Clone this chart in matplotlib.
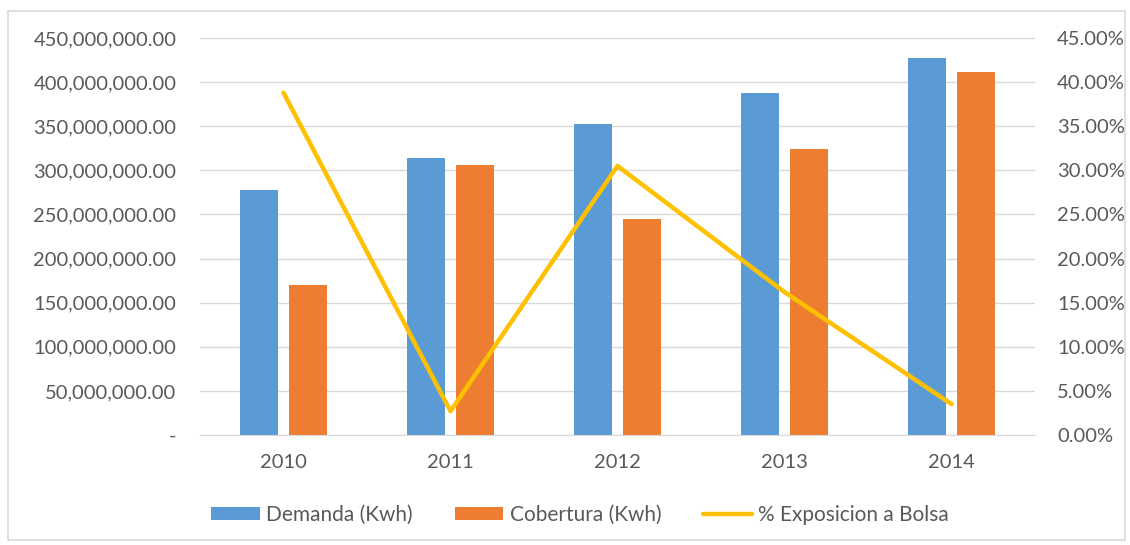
import matplotlib
matplotlib.use("Agg")
import matplotlib.pyplot as plt
from matplotlib.patches import Rectangle
from matplotlib.ticker import FuncFormatter, MultipleLocator
import numpy as np

years = ["2010", "2011", "2012", "2013", "2014"]
demanda = [278e6, 314e6, 353e6, 388e6, 427e6]
cobertura = [170e6, 306e6, 245e6, 324e6, 411e6]
exposicion = [38.8, 2.7, 30.5, 16.2, 3.5]

plt.rcParams['font.family'] = ['Lato', 'DejaVu Sans']
txt = '#595959'
fig = plt.figure(figsize=(11.3, 5.45), dpi=100)
fig.patches.append(Rectangle((8/1130, 5/545), 1117/1130, 529/545, transform=fig.transFigure,
                             fill=False, edgecolor='#D9D9D9', linewidth=1.2))
ax = fig.add_axes([200/1130, 1-435/545, 835/1130, 397/545])
x = np.arange(len(years))
w = 0.228
off = 0.146
b1 = ax.bar(x - off, demanda, w, color='#5B9BD5', label='Demanda (Kwh)', zorder=2)
b2 = ax.bar(x + off, cobertura, w, color='#ED7D31', label='Cobertura (Kwh)', zorder=2)
ax.set_xlim(-0.5, 4.5)
ax.set_ylim(0, 450e6)
ax.yaxis.set_major_locator(MultipleLocator(50e6))
ax.yaxis.set_major_formatter(FuncFormatter(lambda v, p: '-' if v == 0 else f'{v:,.2f}'))
ax.set_xticks(x)
ax.set_xticklabels(years)
ax.grid(axis='y', color='#D9D9D9', linewidth=1, zorder=0)
ax.set_axisbelow(True)
for s in ax.spines.values():
    s.set_visible(False)
ax.spines['bottom'].set_visible(True)
ax.spines['bottom'].set_color('#D9D9D9')
ax.tick_params(axis='both', length=0, colors=txt, labelsize=14.5)
ax.tick_params(axis='y', pad=17)
ax.tick_params(axis='x', pad=14)

ax2 = ax.twinx()
ln, = ax2.plot(x, exposicion, color='#FFC000', linewidth=3.2, label='% Exposicion a Bolsa',
               solid_capstyle='round', solid_joinstyle='round', zorder=3)
ax2.set_ylim(0, 45)
ax2.yaxis.set_major_locator(MultipleLocator(5))
ax2.yaxis.set_major_formatter(FuncFormatter(lambda v, p: f'{v:.2f}%'))
for s in ax2.spines.values():
    s.set_visible(False)
ax2.tick_params(axis='y', length=0, colors=txt, labelsize=14.5, pad=16)

fig.legend(handles=[b1, b2, ln], loc='center', bbox_to_anchor=(580/1130, 1-515/545),
           ncol=3, frameon=False, fontsize=15, labelcolor=txt, handlelength=2.35,
           handleheight=0.55, columnspacing=2.0, handletextpad=0.3)
fig.savefig('out.png', dpi=100)
